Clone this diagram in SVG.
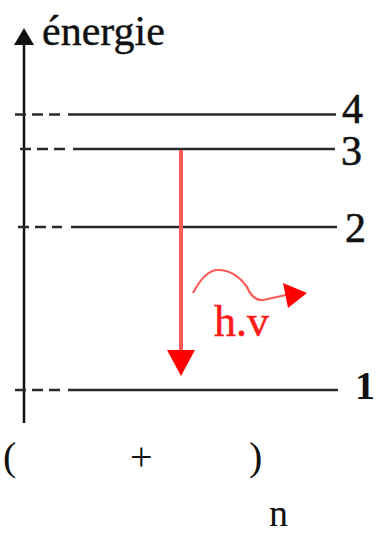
<svg xmlns="http://www.w3.org/2000/svg" width="376" height="534" viewBox="0 0 376 534">
<style>
.t{font-family:"Liberation Serif","Times New Roman",serif;fill:#111}
.lv{stroke:#2a2a2a;stroke-width:2.5;fill:none}
.ds{stroke-dasharray:11,6}
.red{stroke:#ff5a5a;fill:none}
</style>
<rect width="376" height="534" fill="#ffffff"/>
<g id="axis">
<line x1="24" y1="44" x2="24" y2="423" stroke="#111" stroke-width="2.5"/>
<polygon points="24,28 14,45 34,45" fill="#111"/>
<text class="t" x="42" y="45" font-size="42" stroke="#111" stroke-width="0.4">énergie</text>
</g>
<g id="level4">
<line class="lv ds" x1="15" y1="114.5" x2="61" y2="114.5"/>
<line class="lv" x1="68" y1="114.5" x2="336" y2="114.5"/>
<text class="t" x="342" y="123" font-size="42" stroke="#111" stroke-width="0.6">4</text>
</g>
<g id="level3">
<line class="lv ds" x1="20" y1="149" x2="65" y2="149" stroke-dasharray="7,10,10,8,10,8"/>
<line class="lv" x1="73" y1="149" x2="335" y2="149"/>
<text class="t" x="341" y="165" font-size="42" stroke="#111" stroke-width="0.6">3</text>
</g>
<g id="level2">
<line class="lv ds" x1="18" y1="227" x2="62" y2="227" stroke-dasharray="10,7,10,6,11"/>
<line class="lv" x1="71" y1="227" x2="337" y2="227"/>
<text class="t" x="345" y="242" font-size="42" stroke="#111" stroke-width="0.6">2</text>
</g>
<g id="level1">
<line class="lv ds" x1="15" y1="390" x2="60" y2="390"/>
<line class="lv" x1="68" y1="390" x2="338" y2="390"/>
<text class="t" x="355" y="399" font-size="40" font-weight="bold">1</text>
</g>
<g id="connectors">
<g id="transition">
<line class="red" x1="181" y1="150" x2="181" y2="352" stroke-width="4"/>
<polygon points="167,350 195,350 181,376" fill="#ff0000"/>
</g>
<g id="photon">
<path class="red" stroke-width="2.2" d="M193,293 Q205,270 218,270 Q235,270 247,287 Q253,301 263,300 L286,295"/>
<polygon points="283,283 307,293 288,308" fill="#ff0000"/>
</g>
</g>
<g id="photon-label">
<text x="214" y="336" font-size="44" font-family="Liberation Serif,Times New Roman,serif" fill="#ff1a1a" stroke="#ff1a1a" stroke-width="0.5">h.v</text>
</g>
<g id="formula">
<text class="t" x="3" y="470" font-size="40">(</text>
<text class="t" x="130" y="470" font-size="40">+</text>
<text class="t" x="249" y="470" font-size="40">)</text>
<text class="t" x="269" y="526" font-size="38">n</text>
</g>
</svg>
